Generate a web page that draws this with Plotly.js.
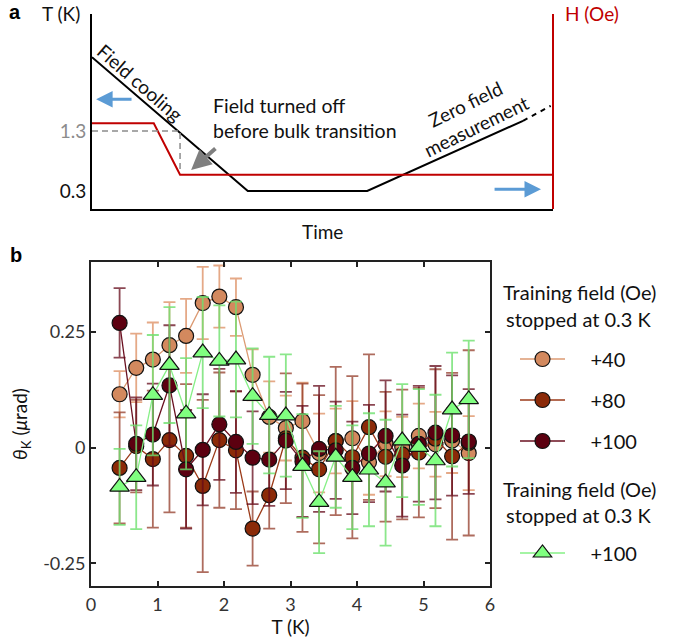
<!DOCTYPE html>
<html><head><meta charset="utf-8">
<script src="https://cdn.plot.ly/plotly-3.0.1.min.js"></script>
<style>body{margin:0;background:#fff}#chart{width:683px;height:641px}</style>
</head><body><div id="chart"></div>
<script>
// ---------- Panel a: schematic protocol ----------
const coolTime = [0, 33.8, 59.7, 93.5];
const coolTemp = [2.53, 0.3, 0.3, 1.47];
const measTime = [93.5, 99.5];
const measTemp = [1.47, 1.72];
const fieldTime = [0, 13.4, 19.1, 100];
const fieldLevel = [1.43, 1.43, 0.57, 0.57];
const guideTime = [0, 19.1, 19.1];
const guideTemp = [1.3, 1.3, 0.65];
const tempTickVals = [0.3, 1.3];
const tempTickText = ["0.3", "<span style='color:#8c8c8c'>1.3</span>"];

// ---------- Panel b: Kerr rotation vs temperature ----------
const temperature = [0.43,0.68,0.93,1.18,1.43,1.68,1.93,2.18,2.43,2.68,2.93,3.18,3.43,3.68,3.93,4.18,4.43,4.68,4.93,5.18,5.43,5.68];
const theta40 = [0.115,0.172,0.19,0.221,0.241,0.312,0.326,0.303,0.157,0.066,0.042,0.057,-0.012,0.014,0.02,-0.032,0.008,0.001,0.025,0.007,0.015,-0.012];
const err40   = [0.05,0.074,0.08,0.093,0.08,0.078,0.067,0.062,0.055,0.077,0.07,0.083,0.085,0.07,0.08,0.07,0.07,0.065,0.07,0.07,0.07,0.08];
const theta80 = [-0.044,0.003,-0.025,0.016,-0.018,-0.083,0.016,-0.006,-0.175,-0.103,0.02,-0.022,-0.047,0.014,-0.021,0.044,-0.02,-0.015,-0.011,0.019,-0.019,0.01];
const err80   = [0.12,0.1,0.148,0.156,0.155,0.186,0.146,0.127,0.08,0.072,0.14,0.16,0.16,0.16,0.175,0.157,0.14,0.14,0.14,0.15,0.18,0.2];
const theta100 = [0.269,0.008,0.028,0.134,-0.047,-0.005,0.05,0.012,-0.022,-0.026,0.015,-0.03,-0.003,-0.006,-0.044,-0.013,0.025,-0.039,0.008,0.032,0.026,0.013];
const err100   = [0.075,0.1,0.11,0.13,0.128,0.12,0.12,0.11,0.1,0.1,0.105,0.12,0.136,0.105,0.1,0.105,0.12,0.11,0.125,0.144,0.13,0.113];
const theta100b = [-0.085,-0.064,0.113,0.178,0.073,0.205,0.187,0.19,0.111,0.07,0.069,-0.04,-0.118,-0.02,-0.064,-0.048,-0.076,0.015,0.001,-0.028,0.082,0.104];
const err100b   = [0.082,0.112,0.13,0.125,0.12,0.12,0.12,0.125,0.103,0.126,0.132,0.112,0.11,0.11,0.112,0.122,0.136,0.122,0.125,0.142,0.123,0.127];
const xTickVals = [0,1,2,3,4,5,6];
const yTickVals = [-0.25, 0, 0.25];
const yTickText = ["-0.25", "0", "0.25"];
const seriesNames = ["+40", "+80", "+100", "+100"];

const FONT = "Lato, 'Open Sans', sans-serif";
const NB = "\u00a0\u00a0\u00a0\u00a0";

function series(y, err, name, fill, lineCol, errCol, symbol, size, legend) {
  return {
    x: temperature, y: y, name: NB + name, type: "scatter", mode: "lines+markers",
    xaxis: "x", yaxis: "y", legend: legend,
    line: {color: lineCol, width: 1.3},
    marker: {symbol: symbol, size: size, color: fill, line: {color: "#111", width: 1.2}},
    error_y: {type: "data", array: err, visible: true, color: errCol, thickness: 1.8, width: 6},
    cliponaxis: true
  };
}

const traces = [
  {x: coolTime, y: coolTemp, xaxis: "x2", yaxis: "y2", mode: "lines", line: {color: "#000", width: 2}, showlegend: false, hoverinfo: "skip"},
  {x: measTime, y: measTemp, xaxis: "x2", yaxis: "y2", mode: "lines", line: {color: "#000", width: 2, dash: "5px,5px"}, showlegend: false, hoverinfo: "skip"},
  {x: fieldTime, y: fieldLevel, xaxis: "x2", yaxis: "y2", mode: "lines", line: {color: "#c00000", width: 2}, showlegend: false, hoverinfo: "skip"},
  {x: guideTime, y: guideTemp, xaxis: "x2", yaxis: "y2", mode: "lines", line: {color: "#8c8c8c", width: 1.5, dash: "6px,4px"}, showlegend: false, hoverinfo: "skip"},
  series(theta40, err40, seriesNames[0], "#d3895e", "#dc9a72", "rgba(220,140,95,0.75)", "circle", 15, "legend"),
  series(theta80, err80, seriesNames[1], "#8b2a08", "#9b3a18", "rgba(140,45,25,0.7)", "circle", 15, "legend2"),
  series(theta100, err100, seriesNames[2], "#5c0010", "#6a1020", "rgba(100,10,25,0.75)", "circle", 15, "legend3"),
  series(theta100b, err100b, seriesNames[3], "#80ff80", "#86f086", "rgba(110,225,110,0.8)", "triangle-up", 17, "legend4")
];

function leg(py) {
  return {x: 515/683, xanchor: "left", y: 1 - py/641, yanchor: "middle", bgcolor: "rgba(0,0,0,0)",
          font: {family: FONT, size: 20, color: "#111"}, itemwidth: 45, tracegroupgap: 0};
}

function label(text, px, py, size, color, extra) {
  return Object.assign({text: text, xref: "paper", yref: "paper", x: px/683, y: 1 - py/641,
    xanchor: "center", yanchor: "middle", showarrow: false,
    font: {family: FONT, size: size, color: color}}, extra || {});
}

const layout = {
  width: 683, height: 641, margin: {l: 0, r: 0, t: 0, b: 0},
  paper_bgcolor: "#fff", plot_bgcolor: "rgba(0,0,0,0)",
  font: {family: FONT, color: "#111"},
  showlegend: true,
  legend: leg(359), legend2: leg(400), legend3: leg(441), legend4: leg(553),
  xaxis: {domain: [91/683, 490/683], range: [0, 6], tickvals: xTickVals, ticks: "inside", ticklen: 5, tickwidth: 2,
          tickcolor: "#222", showline: true, linewidth: 2, linecolor: "#222", mirror: "allticks", showgrid: false,
          zeroline: false, tickfont: {family: FONT, size: 18, color: "#333"}, ticklabelstandoff: 1,
          title: {text: "T (K)", font: {family: FONT, size: 19, color: "#111"}, standoff: 4}, anchor: "y"},
  yaxis: {domain: [1 - 586/641, 1 - 262/641], range: [-0.299, 0.4006], tickvals: yTickVals, ticktext: yTickText,
          ticks: "inside", ticklen: 5, tickwidth: 2, tickcolor: "#222", showline: true, linewidth: 2, linecolor: "#222",
          mirror: "allticks", showgrid: false, zeroline: false, tickfont: {family: FONT, size: 18, color: "#333"},
          title: {text: "<i>θ</i><sub>K</sub> (<i>μ</i>rad)", font: {family: FONT, size: 19, color: "#111"}, standoff: 10}, anchor: "x"},
  xaxis2: {domain: [92/683, 553/683], range: [0, 100], showticklabels: false, ticks: "", showgrid: false, zeroline: false,
           showline: true, linewidth: 2, linecolor: "#000", anchor: "y2"},
  yaxis2: {domain: [1 - 209/641, 1 - 14/641], range: [0, 3.25], tickvals: tempTickVals, ticktext: tempTickText, ticks: "",
           showgrid: false, zeroline: false, showline: true, linewidth: 2, linecolor: "#000", anchor: "x2",
           tickfont: {family: FONT, size: 19, color: "#111"}},
  shapes: [
    {type: "line", xref: "x2 domain", yref: "y2 domain", x0: 1, x1: 1, y0: 0, y1: 1, line: {color: "#c00000", width: 2}}
  ],
  annotations: [
    label("<b>a</b>", 15, 12, 20, "#000", {font: {family: "Liberation Sans, Arial", size: 20, color: "#000"}}),
    label("<b>b</b>", 16, 255, 20, "#000", {font: {family: "Liberation Sans, Arial", size: 20, color: "#000"}}),
    label("T (K)", 61, 14, 19, "#111"),
    label("H (Oe)", 592, 14, 19, "#c00000"),
    label("Time", 322, 232, 19, "#111"),
    {text: "Field cooling", xref: "x2", yref: "y2", x: 10.4, y: 2.1, textangle: 41, showarrow: false, font: {family: FONT, size: 19, color: "#111"}},
    {text: "Field turned off<br>before bulk transition", xref: "x2", yref: "y2", x: 25.8, y: 1.52, xanchor: "left", align: "left", showarrow: false, font: {family: FONT, size: 19.5, color: "#111"}},
    {text: "Zero field<br>measurement", xref: "x2", yref: "y2", x: 82.2, y: 1.57, textangle: -26, showarrow: false, font: {family: FONT, size: 19, color: "#111"}},
    {text: "", xref: "x2", yref: "y2", axref: "x2", ayref: "y2", x: 0.9, y: 1.83, ax: 8.9, ay: 1.83, showarrow: true, arrowhead: 2, arrowsize: 1.1, arrowwidth: 3, arrowcolor: "#5b9bd5"},
    {text: "", xref: "x2", yref: "y2", axref: "x2", ayref: "y2", x: 97.4, y: 0.33, ax: 87, ay: 0.33, showarrow: true, arrowhead: 2, arrowsize: 1.1, arrowwidth: 3, arrowcolor: "#5b9bd5"},
    {text: "", xref: "x2", yref: "y2", axref: "x2", ayref: "y2", x: 21.5, y: 0.65, ax: 27.1, ay: 1.03, showarrow: true, arrowhead: 2, arrowsize: 1, arrowwidth: 4, arrowcolor: "#7f7f7f"},
    label("Training field (Oe)", 579, 292, 20, "#111"),
    label("stopped at 0.3 K", 579, 319, 20, "#111"),
    label("Training field (Oe)", 579, 489, 20, "#111"),
    label("stopped at 0.3 K", 579, 515, 20, "#111")
  ]
};

Plotly.newPlot("chart", traces, layout, {staticPlot: true});
</script>
</body></html>
